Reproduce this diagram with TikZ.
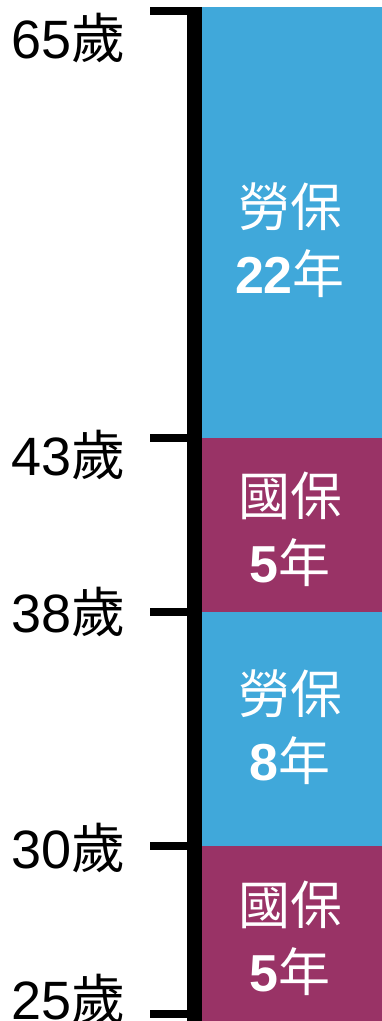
\documentclass[tikz,border=0pt]{standalone}
\usepackage{fontspec}
\setmainfont{Liberation Sans}
\newfontfamily\cjk{Noto Sans CJK TC}
\definecolor{laobao}{RGB}{64,168,218}
\definecolor{guobao}{RGB}{153,51,102}

\begin{document}
\begin{tikzpicture}[x=1pt,y=-1pt,
        tick/.style={line width=8pt,black},
        agelabel/.style={anchor=east,inner sep=0pt,font=\fontsize{54}{54}\selectfont},
        blocktext/.style={white,align=center,inner sep=0pt,font=\fontsize{52}{67}\selectfont}]
        
        \useasboundingbox (0,0) rectangle (382,1021);
        
        \def\barx{194.5}
        \def\tickx{150}
        \def\boxl{202}
        \def\boxr{382}
        \def\txtx{290}
        
        % insurance blocks
        \fill[laobao] (\boxl,7) rectangle (\boxr,438);
        \fill[guobao] (\boxl,438) rectangle (\boxr,612);
        \fill[laobao] (\boxl,612) rectangle (\boxr,846);
        \fill[guobao] (\boxl,846) rectangle (\boxr,1021);
        
        \node[blocktext] (lao22) at (\txtx,240) {{\cjk 勞保}\\{\bfseries 22}{\cjk 年}};
        \node[blocktext] (guo5a) at (\txtx,529) {{\cjk 國保}\\{\bfseries 5}{\cjk 年}};
        \node[blocktext] (lao8) at (\txtx,727) {{\cjk 勞保}\\{\bfseries 8}{\cjk 年}};
        \node[blocktext] (guo5b) at (\txtx,938) {{\cjk 國保}\\{\bfseries 5}{\cjk 年}};
        
        % time axis
        \draw[line width=15pt] (\barx,7) -- (\barx,1021);
        
        \foreach \y/\age/\ly in {11/65/38, 438/43/455, 612/38/612, 846/30/848, 1014/25/999}{
            \draw[tick] (\tickx,\y) -- (\barx,\y);
            \node[agelabel] (age\age) at (126,\ly) {\age{\cjk 歲}};
        }
        
\end{tikzpicture}
\end{document}
